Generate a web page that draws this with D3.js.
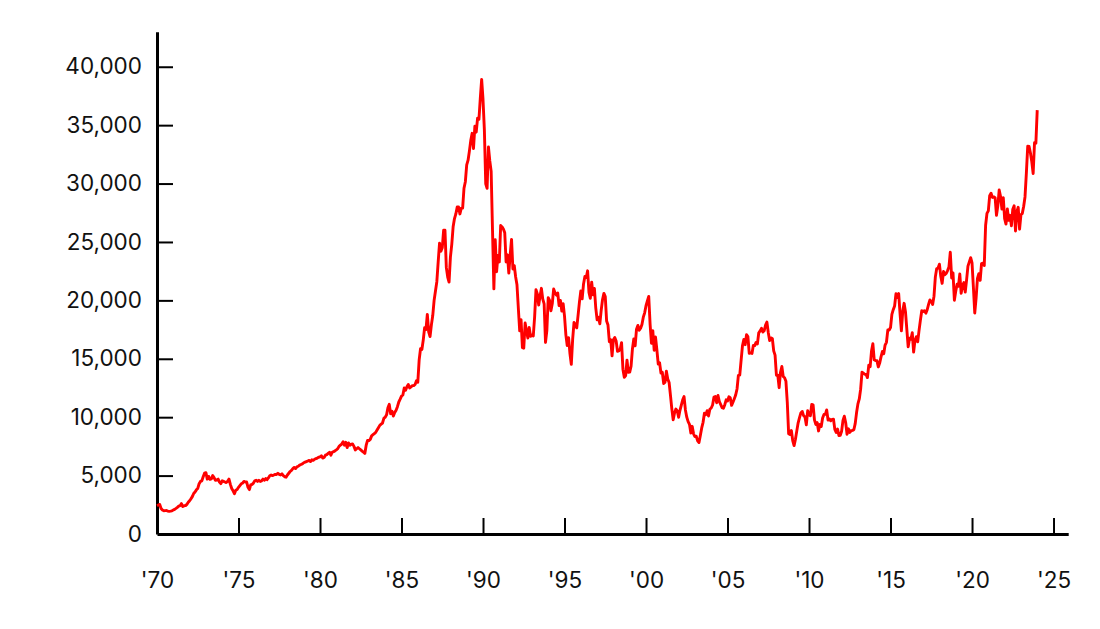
<!DOCTYPE html>
<html>
<head>
<meta charset="utf-8">
<script src="https://cdn.jsdelivr.net/npm/d3@7/dist/d3.min.js"></script>
<style>
  html, body { margin: 0; padding: 0; background: #fff; }
  svg { display: block; }
  .axis text { font-family: Inter, "Noto Sans", sans-serif; font-size: 22.5px; fill: #111; }
</style>
</head>
<body>
<svg id="chart" width="1100" height="629"></svg>
<script>
// Monthly closes, starting January 1970
const startYear = 1970;
const v1970s = [
  2420, 2480, 2530, 2180, 2050, 1990, 2000, 2010, 1960, 1940, 1960, 1987,
  2050, 2110, 2190, 2280, 2380, 2420, 2600, 2350, 2420, 2430, 2540, 2713,
  2850, 3010, 3200, 3470, 3600, 3780, 3900, 4300, 4500, 4550, 4900, 5207,
  5250, 4700, 4930, 4680, 4720, 5000, 4830, 4600, 4620, 4700, 4450, 4306,
  4550, 4500, 4450, 4400, 4520, 4700, 4250, 3900, 3700, 3450, 3750, 3817,
  4000, 4150, 4300, 4350, 4500, 4450, 4450, 4000, 3800, 4200, 4250, 4358,
  4550, 4600, 4500, 4600, 4500, 4550, 4700, 4600, 4750, 4650, 4800, 4990,
  5050, 5000, 5050, 5100, 5100, 5200, 5100, 5050, 5150, 5000, 4900, 4865,
  5050, 5200, 5350, 5450, 5600, 5700, 5600, 5750, 5800, 5900, 5950, 6001,
  6100, 6150, 6200, 6250, 6300, 6200, 6350, 6300, 6400, 6450, 6500, 6569
];
const v1980s = [
  6600, 6700, 6500, 6550, 6750, 6800, 6900, 7000, 6750, 7000, 7050, 7116,
  7200, 7300, 7500, 7600, 7700, 7900, 7600, 7850, 7400, 7800, 7600, 7681,
  7700, 7500, 7200, 7300, 7400, 7300, 7200, 7100, 7000, 6900, 7600, 8016,
  8000, 8100, 8400, 8500, 8600, 8700, 8900, 9100, 9300, 9400, 9500, 9893,
  10000, 10200, 10800, 11100, 10300, 10500, 10100, 10400, 10600, 10900, 11300, 11542,
  11800, 11900, 12500, 12300, 12600, 12800, 12500, 12600, 12700, 12700, 12800, 13113,
  13000, 14900, 15860, 15800, 16600, 17650, 17500, 18800, 17300, 16900, 17900, 18701,
  20000, 20800, 21600, 23300, 24900, 24200, 24500, 26000, 26000, 22800, 22000, 21564,
  23700, 24800, 26300, 27000, 27400, 28000, 28000, 27400, 27900, 27900, 29600, 30159,
  31600, 32000, 32800, 33700, 34300, 33000, 34900, 34400, 35600, 35500, 37300, 38916
];
const v1990s = [
  37200, 34600, 29980, 29590, 33130, 31940, 31040, 25980, 20980, 25190, 22450, 23849,
  23290, 26410, 26290, 26110, 25790, 23290, 23900, 22340, 23920, 25220, 22690, 22984,
  22020, 21340, 19350, 17390, 18350, 15950, 15910, 18060, 17400, 16770, 17680, 16925,
  17020, 16950, 18590, 20920, 20550, 19590, 20380, 21030, 20100, 19700, 16400, 17417,
  20230, 19990, 19110, 19730, 20970, 20650, 20450, 20630, 19560, 19990, 19080, 19723,
  18650, 17050, 16140, 16810, 15440, 14520, 16680, 18120, 17910, 17650, 18740, 19868,
  20810, 20130, 21410, 22040, 21960, 22530, 20690, 20170, 21560, 20470, 21020, 19361,
  18330, 18560, 18000, 19150, 20070, 20600, 20330, 18230, 17890, 16460, 16630, 15259,
  16630, 16830, 16530, 15640, 15670, 15830, 16380, 14110, 13410, 13560, 14880, 13842,
  13860, 14370, 15840, 16700, 16110, 17530, 17860, 17440, 17610, 17940, 18560, 18934
];
const v2000s = [
  19540, 19960, 20337, 17970, 16330, 17410, 15730, 16860, 15750, 14540, 14650, 13786,
  13840, 12880, 12999, 13934, 13262, 12969, 11861, 10714, 9775, 10366, 10697, 10543,
  9998, 10588, 11025, 11493, 11764, 10622, 10000, 9619, 9383, 8640, 9216, 8579,
  8340, 8363, 7973, 7831, 8425, 9083, 9563, 10344, 10219, 10560, 10101, 10677,
  10784, 11042, 11715, 11762, 11236, 11859, 11326, 11082, 10824, 10771, 11073, 11489,
  11388, 11741, 11669, 11009, 11277, 11584, 11900, 12414, 13574, 13607, 14872, 16111,
  16650, 16205, 17059, 16906, 15467, 15505, 15457, 16141, 16128, 16399, 16274, 17226,
  17383, 17604, 17288, 17400, 17876, 18138, 17249, 16569, 16786, 16738, 15681, 15308,
  13592, 13603, 12526, 13850, 14339, 13482, 13377, 13073, 11260, 8577, 8512, 8860,
  7994, 7568, 8110, 8828, 9523, 9958, 10357, 10493, 10133, 10035, 9346, 10546
];
const v2010s = [
  10198, 10126, 11090, 11057, 9769, 9383, 9537, 8824, 9369, 9202, 9937, 10229,
  10238, 10624, 9755, 9850, 9694, 9816, 9833, 8955, 8700, 8988, 8434, 8455,
  8803, 9723, 10084, 9521, 8543, 9007, 8695, 8840, 8870, 8928, 9446, 10395,
  11139, 11559, 12398, 13861, 13775, 13677, 13668, 13389, 14456, 14328, 15662, 16291,
  14915, 14841, 14828, 14304, 14632, 15162, 15621, 15425, 16174, 16414, 17460, 17451,
  17674, 18798, 19207, 19520, 20563, 20236, 20585, 18890, 17388, 19083, 19747, 19034,
  17518, 16027, 16759, 16666, 17235, 15576, 16569, 16887, 16450, 17425, 18308, 19114,
  19041, 19119, 18909, 19197, 19651, 20033, 19925, 19646, 20356, 22012, 22725, 22765,
  23098, 22068, 21454, 22468, 22202, 22305, 22554, 22865, 24120, 21920, 22351, 20015,
  20773, 21385, 21206, 22259, 20601, 21276, 21521, 20704, 21756, 22927, 23294, 23657
];
const v2020s = [
  23205, 21143, 18917, 20194, 21878, 22288, 21710, 23140, 23185, 22977, 26434, 27444,
  27663, 28966, 29179, 28813, 28860, 28792, 27284, 28090, 29453, 28893, 27822, 28792,
  27002, 26527, 27821, 26848, 27280, 26393, 27802, 28092, 25937, 27587, 27969, 26095,
  27327, 27446, 28041, 28856, 30888, 33189, 33172, 32619, 31858, 30859, 33487, 33464,
  36287
];
const xTickYears = [1970, 1975, 1980, 1985, 1990, 1995, 2000, 2005, 2010, 2015, 2020, 2025];
const xTickLabels = ["'70", "'75", "'80", "'85", "'90", "'95", "'00", "'05", "'10", "'15", "'20", "'25"];
const yTickValues = [0, 5000, 10000, 15000, 20000, 25000, 30000, 35000, 40000];

const values = [].concat(v1970s, v1980s, v1990s, v2000s, v2010s, v2020s);
const data = values.map((v, i) => ({ t: startYear + i / 12, v }));

const svg = d3.select("#chart");
const x = d3.scaleLinear().domain([1970, 2025.9]).range([157, 1068.2]);
const y = d3.scaleLinear().domain([0, 43000]).range([534, 31.7]);

// x axis
const xAxis = d3.axisBottom(x)
  .tickValues(xTickYears)
  .tickFormat((d, i) => xTickLabels[i])
  .tickSizeInner(-16).tickSizeOuter(0).tickPadding(38);
const gx = svg.append("g").attr("class", "axis").attr("transform", "translate(0,534)").call(xAxis);
gx.select(".domain").attr("stroke", "#000").attr("stroke-width", 3);
gx.selectAll(".tick line").attr("stroke", "#000").attr("stroke-width", 2);

// y axis
const yAxis = d3.axisLeft(y)
  .tickValues(yTickValues)
  .tickFormat(d3.format(","))
  .tickSizeInner(-16).tickSizeOuter(0).tickPadding(15);
const gy = svg.append("g").attr("class", "axis").attr("transform", "translate(157,0)").call(yAxis);
gy.select(".domain").attr("stroke", "#000").attr("stroke-width", 3);
gy.selectAll(".tick line").attr("stroke", "#000").attr("stroke-width", 2);
gy.selectAll(".tick").filter(d => d === 0).select("line").remove();
gx.selectAll(".tick").filter(d => d === 1970).select("line").remove();

// line
const line = d3.line().x(d => x(d.t)).y(d => y(d.v));
svg.append("path")
  .datum(data)
  .attr("fill", "none")
  .attr("stroke", "#ff0000")
  .attr("stroke-width", 2.9)
  .attr("stroke-linejoin", "round")
  .attr("d", line);
</script>
</body>
</html>
